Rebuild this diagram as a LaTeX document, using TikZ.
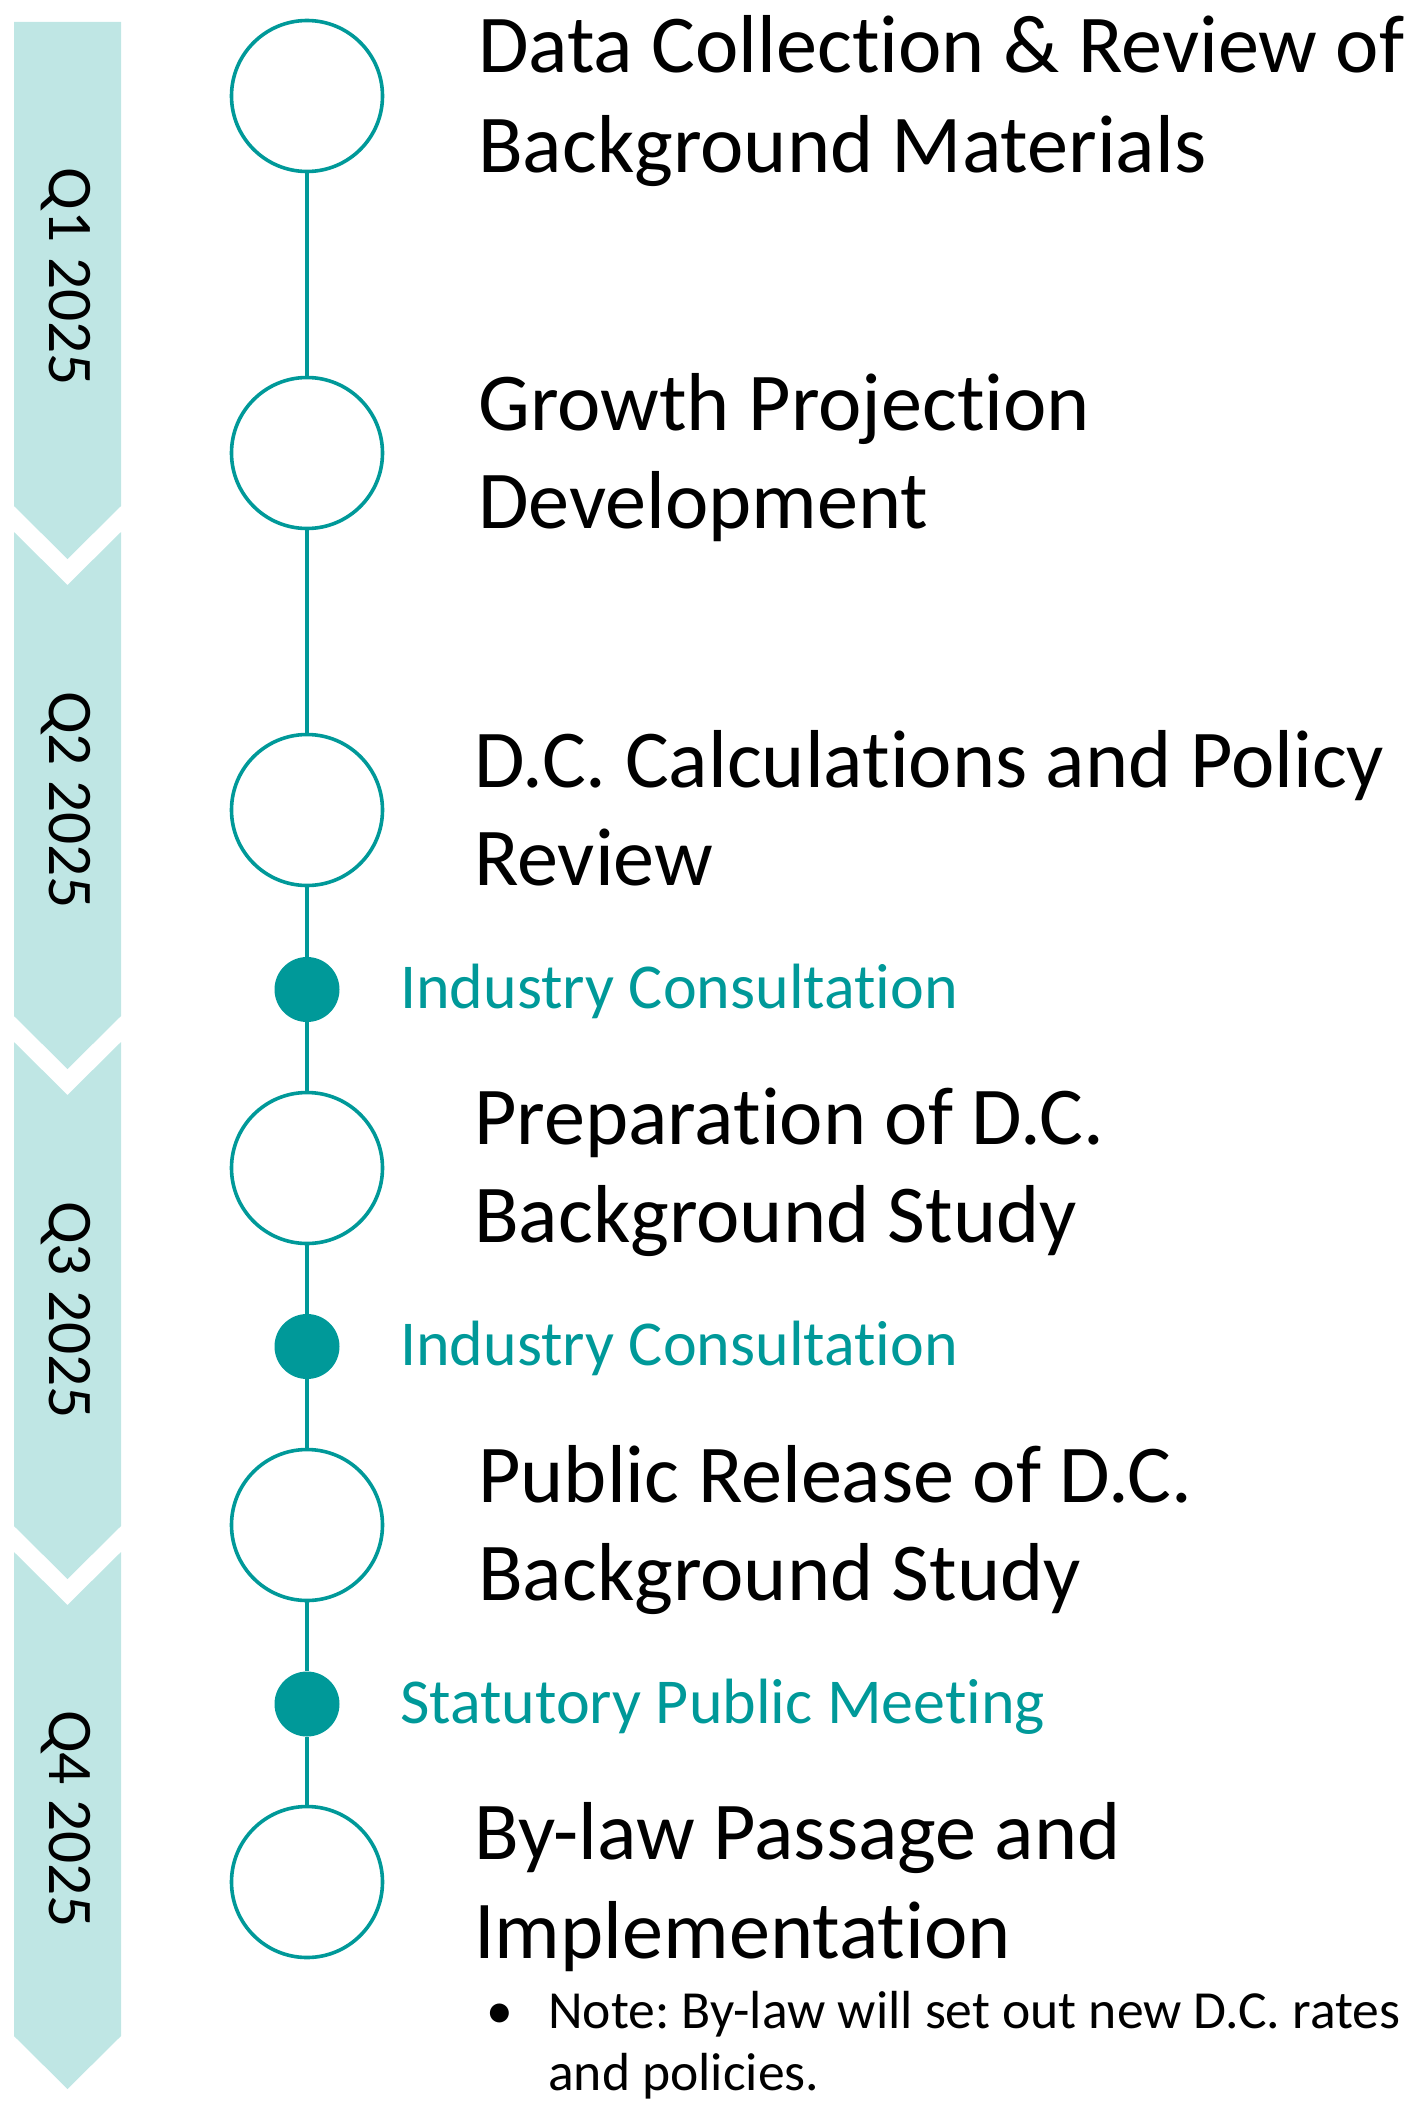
\documentclass[tikz,border=0pt]{standalone}
\usepackage{fontspec}
\setmainfont{Carlito}[Ligatures=NoCommon]
\definecolor{tealA}{RGB}{0,153,153}
\definecolor{bandA}{RGB}{191,230,228}
\frenchspacing
\begin{document}
\begin{tikzpicture}[x=1pt,y=-1pt,
  stage/.style={circle, draw=tealA, line width=3.6pt, fill=white, minimum size=151pt, inner sep=0pt},
  milestone/.style={circle, fill=tealA, minimum size=65pt, inner sep=0pt},
  link/.style={draw=tealA, line width=3.4pt},
  title/.style={anchor=base west, inner sep=0pt, font=\fontsize{82.2}{98}\selectfont},
  event/.style={anchor=base west, inner sep=0pt, text=tealA, font=\fontsize{64}{76}\selectfont},
  quarter/.style={rotate=-90, inner sep=0pt, font=\fontsize{63.5}{76}\selectfont},
  notetext/.style={anchor=base west, inner sep=0pt, font=\fontsize{53.6}{62}\selectfont},
  bandseg/.style={fill=bandA, draw=none}]
\useasboundingbox (0,0) rectangle (1417,2101);

% quarter band
\path[bandseg] (14,22) -- (121,22) -- (121,506) -- (67.5,559) -- (14,506) -- cycle;
\path[bandseg] (14,532) -- (67.5,585) -- (121,532) -- (121,1016) -- (67.5,1069) -- (14,1016) -- cycle;
\path[bandseg] (14,1042) -- (67.5,1095) -- (121,1042) -- (121,1526) -- (67.5,1579) -- (14,1526) -- cycle;
\path[bandseg] (14,1552) -- (67.5,1605) -- (121,1552) -- (121,2036) -- (67.5,2089) -- (14,2036) -- cycle;

\node[quarter] (q1) at (66,277) {Q1 2025};
\node[quarter] (q2) at (66,800) {Q2 2025};
\node[quarter] (q3) at (66,1310) {Q3 2025};
\node[quarter] (q4) at (66,1819) {Q4 2025};

% timeline
\node[stage] (c1) at (307,96) {};
\node[stage] (c2) at (307,453) {};
\node[stage] (c3) at (307,810) {};
\node[milestone] (d1) at (307,989.5) {};
\node[stage] (c4) at (307,1168) {};
\node[milestone] (d2) at (307,1346.5) {};
\node[stage] (c5) at (307,1525) {};
\node[milestone] (d3) at (307,1704) {};
\node[stage] (c6) at (307,1882) {};

\draw[link] (c1) -- (c2);
\draw[link] (c2) -- (c3);
\draw[link] (c3) -- (d1);
\draw[link] (d1) -- (c4);
\draw[link] (c4) -- (d2);
\draw[link] (d2) -- (c5);
\draw[link] (c5) -- (d3);
\draw[link] (d3) -- (c6);

% texts
\node[title] (t1a) at (478,73) {Data Collection \& Review of};
\node[title] (t1b) at (478,172.5) {Background Materials};
\node[title] (t2a) at (478,430) {Growth Projection};
\node[title] (t2b) at (478,528.6) {Development};
\node[title] (t3a) at (474,787) {D.C. Calculations and Policy};
\node[title] (t3b) at (474,885) {Review};
\node[event] (e1) at (400,1008) {Industry Consultation};
\node[title] (t4a) at (474,1144) {Preparation of D.C.};
\node[title] (t4b) at (474,1242) {Background Study};
\node[event] (e2) at (400,1365) {Industry Consultation};
\node[title] (t5a) at (478,1502) {Public Release of D.C.};
\node[title] (t5b) at (478,1600) {Background Study};
\node[event] (e3) at (400,1723) {Statutory Public Meeting};
\node[title] (t6a) at (474,1859.5) {By-law Passage and};
\node[title] (t6b) at (474,1958) {Implementation};
\node[notetext, anchor=base] (b1) at (500,2028) {•};
\node[notetext] (n1) at (548,2028) {Note: By-law will set out new D.C. rates};
\node[notetext] (n2) at (548,2090.6) {and policies.};
\end{tikzpicture}
\end{document}
